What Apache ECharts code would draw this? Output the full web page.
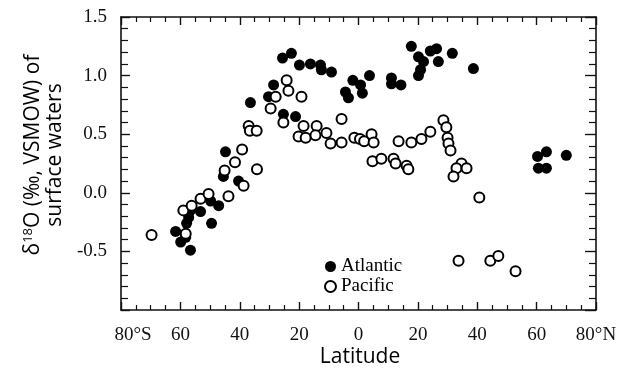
<!DOCTYPE html>
<html>
<head>
<meta charset="utf-8">
<script src="https://cdn.jsdelivr.net/npm/echarts@6/dist/echarts.min.js"></script>
<style>
html,body{margin:0;padding:0;background:#fff;}
#chart{width:629px;height:370px;}
</style>
</head>
<body>
<div id="chart"></div>
<script>
// Latitude (negative = south), δ18O value
const atlantic = [
  [-61.6,-0.33],[-59.9,-0.42],[-58.2,-0.38],[-56.6,-0.49],[-57.9,-0.26],[-57.2,-0.21],
  [-56.6,-0.15],[-53.2,-0.16],[-49.5,-0.26],[-49.8,-0.07],[-47.1,-0.11],[-45.5,0.14],
  [-44.8,0.35],[-40.4,0.10],[-36.4,0.77],[-30.3,0.82],[-28.6,0.92],[-25.3,0.67],
  [-21.2,0.65],[-25.6,1.15],[-22.6,1.19],[-19.9,1.09],[-16.2,1.10],[-12.8,1.09],
  [-12.5,1.05],[-9.1,1.03],[-4.4,0.86],[-3.4,0.81],[-1.9,0.96],[0.7,0.92],[1.3,0.85],
  [3.7,1.00],[11.1,0.98],[11.1,0.93],[14.3,0.92],[17.8,1.25],[20.2,1.16],[21.9,1.12],
  [20.9,1.05],[20.2,1.00],[24.2,1.21],[26.3,1.23],[26.9,1.12],[31.6,1.19],[38.7,1.06],
  [60.3,0.31],[63.3,0.35],[70.0,0.32],[60.6,0.21],[63.3,0.21]
];
const pacific = [
  [-69.7,-0.36],[-58.2,-0.35],[-59.0,-0.15],[-56.2,-0.11],[-53.2,-0.05],[-50.5,-0.01],
  [-43.8,-0.03],[-45.1,0.19],[-41.6,0.26],[-39.2,0.37],[-38.7,0.06],[-34.2,0.20],
  [-37.0,0.57],[-36.6,0.53],[-34.3,0.53],[-29.6,0.72],[-27.9,0.82],[-24.2,0.96],
  [-23.6,0.87],[-19.2,0.82],[-25.3,0.60],[-18.5,0.57],[-20.2,0.48],[-17.8,0.47],
  [-14.1,0.57],[-14.5,0.49],[-10.8,0.51],[-9.4,0.42],[-5.7,0.43],[-5.7,0.63],
  [-1.4,0.47],[0.5,0.46],[1.9,0.44],[4.4,0.50],[5.1,0.43],[4.7,0.27],[7.7,0.29],
  [11.8,0.29],[12.5,0.25],[16.2,0.23],[16.8,0.20],[13.5,0.44],[17.8,0.43],[21.2,0.46],
  [24.2,0.52],[28.6,0.62],[29.6,0.56],[30.0,0.47],[30.3,0.42],[31.0,0.36],[34.7,0.25],
  [33.0,0.21],[36.4,0.21],[32.0,0.14],[40.7,-0.04],[33.7,-0.58],[44.4,-0.58],
  [47.1,-0.54],[52.9,-0.67]
];
const seriesNames = ['Atlantic','Pacific'];
const xTitle = 'Latitude';
const yTitleLine1 = ['δ','18','O (‰, VSMOW) of'];
const yTitleLine2 = 'surface waters';

const serif = 'Liberation Serif';
const sans = 'Open Sans';
const ink = '#111';

function xFmt(v){
  if (v === -80) return '{sl|80°S}';
  if (v === 80) return '80°N';
  return String(Math.abs(v));
}
function yFmt(v){
  if (v < -0.9) return '';
  return v.toFixed(1);
}

const chart = echarts.init(document.getElementById('chart'));
const axisLine = {show:true, onZero:false, lineStyle:{color:ink, width:1.6}};
chart.setOption({
  backgroundColor:'#fff',
  animation:false,
  grid:{left:121, right:33, top:17, bottom:60},
  xAxis:[
    {type:'value', min:-80, max:80, interval:20, position:'bottom',
     axisLine:axisLine,
     axisTick:{show:true, inside:true, length:8, lineStyle:{color:ink, width:1.4}},
     minorTick:{show:true, splitNumber:4, length:5, lineStyle:{color:ink, width:1.2}},
     axisLabel:{formatter:xFmt, fontFamily:serif, fontSize:19, color:ink, margin:16,
       rich:{sl:{fontFamily:serif, fontSize:19, color:ink, padding:[0,0,0,24]}}},
     splitLine:{show:false}},
    {type:'value', min:-80, max:80, interval:20, position:'top',
     axisLine:axisLine,
     axisTick:{show:true, inside:true, length:8, lineStyle:{color:ink, width:1.4}},
     minorTick:{show:true, splitNumber:4, length:5, lineStyle:{color:ink, width:1.2}},
     axisLabel:{show:false}, splitLine:{show:false}}
  ],
  yAxis:[
    {type:'value', min:-1.0, max:1.5, interval:0.5, position:'left',
     axisLine:axisLine,
     axisTick:{show:true, inside:true, length:9, lineStyle:{color:ink, width:1.4}},
     minorTick:{show:true, splitNumber:5, length:7, lineStyle:{color:ink, width:1.2}},
     axisLabel:{formatter:yFmt, fontFamily:serif, fontSize:19, color:ink, margin:14},
     splitLine:{show:false}},
    {type:'value', min:-1.0, max:1.5, interval:0.5, position:'right',
     axisLine:axisLine,
     axisTick:{show:true, inside:true, length:11, lineStyle:{color:ink, width:1.4}},
     minorTick:{show:true, splitNumber:5, length:7, lineStyle:{color:ink, width:1.2}},
     axisLabel:{show:false}, splitLine:{show:false}}
  ],
  legend:{
    data:seriesNames, orient:'vertical', left:324, top:257, padding:0,
    itemWidth:11, itemHeight:11, itemGap:1,
    textStyle:{fontFamily:serif, fontSize:19, color:'#000'}
  },
  graphic:[
    {type:'text', x:360, y:357, style:{text:xTitle, font:'21px "Open Sans"', fill:'#000', textAlign:'center', textVerticalAlign:'middle'}},
    {type:'text', x:44, y:155, rotation:Math.PI/2,
     style:{
       text:'{a|'+yTitleLine1[0]+'}{s|'+yTitleLine1[1]+'}{a|'+yTitleLine1[2]+'}\n{a|'+yTitleLine2+'}',
       textAlign:'center', textVerticalAlign:'middle', fill:'#000',
       rich:{
         a:{fontFamily:sans, fontSize:21, lineHeight:22, fill:'#000'},
         s:{fontFamily:sans, fontSize:13, lineHeight:22, fill:'#000', verticalAlign:'top', padding:[0,0,6,0]}
       }
     }}
  ],
  series:[
    {name:'Atlantic', type:'scatter', xAxisIndex:0, yAxisIndex:0, data:atlantic,
     symbol:'circle', symbolSize:11, itemStyle:{color:'#000', opacity:1}, z:2},
    {name:'Pacific', type:'scatter', xAxisIndex:0, yAxisIndex:0, data:pacific,
     symbol:'emptyCircle', symbolSize:10, itemStyle:{color:'#000', borderColor:'#000', borderWidth:1.5, opacity:1}, z:3}
  ]
});
</script>
</body>
</html>
